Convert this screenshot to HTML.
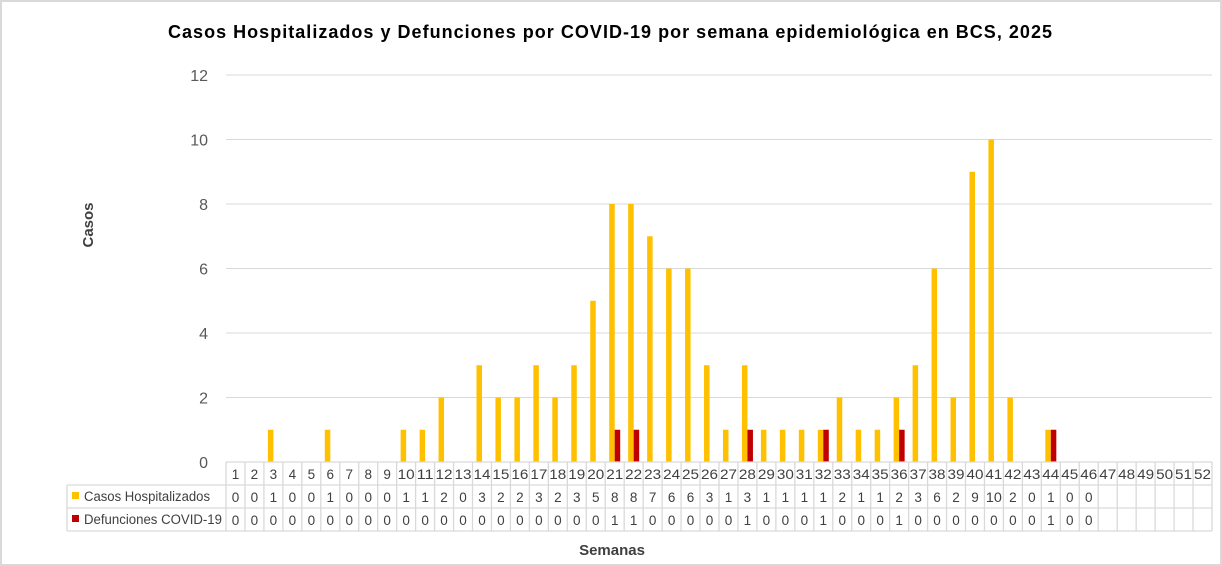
<!DOCTYPE html>
<html><head><meta charset="utf-8"><style>
html,body{margin:0;padding:0;background:#fff}
svg{display:block;font-family:"Liberation Sans",sans-serif}
</style></head><body>
<svg id="c" width="1222" height="566" xmlns="http://www.w3.org/2000/svg">
<rect x="1" y="1" width="1220" height="564" fill="#fff" stroke="#d9d9d9" stroke-width="2"/>
<text x="168" y="38" textLength="884" lengthAdjust="spacing" font-size="18" font-weight="bold" fill="#000">Casos Hospitalizados  y Defunciones  por COVID-19 por semana epidemiológica  en BCS, 2025</text>
<text transform="translate(93,225) rotate(-90)" text-anchor="middle" font-size="15" font-weight="bold" fill="#404040">Casos</text>
<text x="612" y="555" text-anchor="middle" font-size="15" font-weight="bold" fill="#404040">Semanas</text>
<g id="g"></g>
</svg>
<script>
var cases=[0,0,1,0,0,1,0,0,0,1,1,2,0,3,2,2,3,2,3,5,8,8,7,6,6,3,1,3,1,1,1,1,2,1,1,2,3,6,2,9,10,2,0,1,0,0];
var dead=[];for(var i=0;i<46;i++)dead.push(0);[21,22,28,32,36,44].forEach(function(w){dead[w-1]=1});
var L=226,R=1212,N=52,cw=(R-L)/N,y0=462,u=32.25,s='';
for(var k=0;k<=6;k++){var y=y0-k*2*u;
 if(k>0)s+='<line x1="'+L+'" x2="'+R+'" y1="'+y+'" y2="'+y+'" stroke="#d9d9d9"/>';
 s+='<text x="208" y="'+(y+6)+'" text-anchor="end" font-size="16" fill="#595959">'+(k*2)+'</text>';}
for(var i=0;i<N;i++){var cx=L+cw*(i+0.5);
 if(i<46){ if(cases[i])s+='<rect x="'+(cx-5.5)+'" y="'+(y0-cases[i]*u)+'" width="5.5" height="'+(cases[i]*u)+'" fill="#ffc000"/>';
  if(dead[i])s+='<rect x="'+cx+'" y="'+(y0-dead[i]*u)+'" width="5.5" height="'+(dead[i]*u)+'" fill="#c00000"/>';}
 s+='<text x="'+cx+'" y="479" text-anchor="middle" font-size="13.5" fill="#404040"'+(i>=9?' textLength="17" lengthAdjust="spacingAndGlyphs"':'')+'>'+(i+1)+'</text>';
 if(i<46){s+='<text x="'+cx+'" y="502" text-anchor="middle" font-size="13.5" fill="#404040"'+(cases[i]>=10?' textLength="16" lengthAdjust="spacingAndGlyphs"':'')+'>'+cases[i]+'</text>';
 s+='<text x="'+cx+'" y="525" text-anchor="middle" font-size="13.5" fill="#404040">'+dead[i]+'</text>';}}
var st='stroke="#d9d9d9" stroke-width="1.3"';
s+='<line x1="'+L+'" x2="'+R+'" y1="462" y2="462" '+st+'/>';
s+='<line x1="67" x2="'+R+'" y1="485" y2="485" '+st+'/>';
s+='<line x1="67" x2="'+R+'" y1="508" y2="508" '+st+'/>';
s+='<line x1="67" x2="'+R+'" y1="531" y2="531" '+st+'/>';
s+='<line x1="67" x2="67" y1="485" y2="531" '+st+'/>';
for(var i=0;i<=N;i++){var x=L+cw*i;s+='<line x1="'+x+'" x2="'+x+'" y1="462" y2="531" '+st+'/>';}
s+='<rect x="72" y="492" width="7" height="7" fill="#ffc000"/><text x="84" y="501" font-size="13.5" textLength="126" lengthAdjust="spacingAndGlyphs" fill="#404040">Casos Hospitalizados</text>';
s+='<rect x="72" y="515" width="7" height="7" fill="#c00000"/><text x="84" y="524" font-size="13.5" textLength="138" lengthAdjust="spacingAndGlyphs" fill="#404040">Defunciones COVID-19</text>';
document.getElementById('g').innerHTML=s;
</script>
</body></html>
